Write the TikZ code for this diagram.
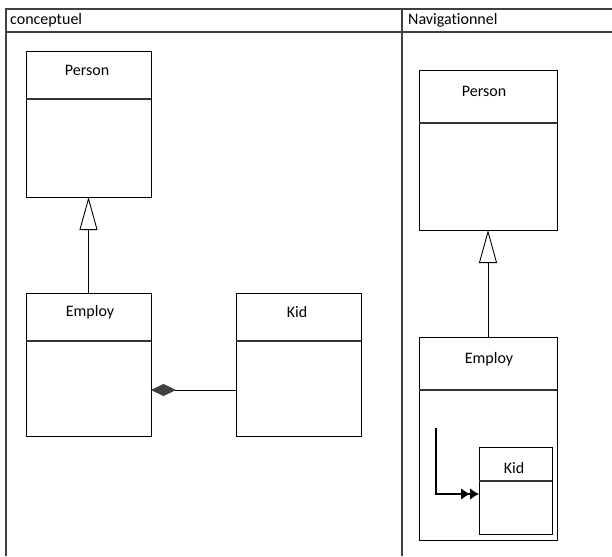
\documentclass[tikz,border=0pt]{standalone}
\usepackage{fontspec}
\setmainfont{Carlito}[Ligatures=NoCommon]
\usetikzlibrary{arrows.meta}
\begin{document}
\begin{tikzpicture}[x=1pt,y=-1pt,
  tablerule/.style={line width=1.4pt, draw=black!75},
  umlbox/.style={draw=black, line width=0.9pt, anchor=north west, outer sep=0pt, inner sep=0pt},
  divider/.style={draw=black!80, line width=1.1pt},
  lbl/.style={font=\fontsize{16}{18}\selectfont, inner sep=0pt},
  hdr/.style={font=\fontsize{16}{18}\selectfont, anchor=west, inner sep=0pt},
  gen/.style={line width=0.9pt, -{Triangle[open, width=18pt, length=33pt, line width=0.9pt]}},
  comp/.style={line width=0.9pt, {Diamond[fill=black!75, color=black!75, width=12pt, length=25pt]}-},
  nav/.style={line width=1.8pt, -{Latex[length=9pt,width=12pt] Latex[length=9pt,width=12pt]}}
]
\useasboundingbox (0,0) rectangle (612,556);
\fill[white] (0,0) rectangle (612,556);
% table
\coordinate (tl) at (5,9);
\coordinate (tr) at (612,9);
\coordinate (hl) at (5,32);
\coordinate (hr) at (612,32);
\coordinate (lv1) at (6,9);
\coordinate (lv2) at (6,556);
\coordinate (dv1) at (402,9);
\coordinate (dv2) at (402,556);
\draw[tablerule] (tl) -- (tr);
\draw[tablerule] (hl) -- (hr);
\draw[tablerule] (lv1) -- (lv2);
\draw[tablerule] (dv1) -- (dv2);
\node[hdr] (h1) at (10,20) {conceptuel};
\node[hdr] (h2) at (408,20) {Navigationnel};

% left side
\node[umlbox, minimum width=125pt, minimum height=146pt] (p1) at (26,51) {};
\draw[divider] (p1.west |- 0,99) -- (p1.east |- 0,99);
\node[lbl] (p1t) at (87,70) {Person};

\node[umlbox, minimum width=125pt, minimum height=143pt] (e1) at (26,293) {};
\draw[divider] (e1.west |- 0,341) -- (e1.east |- 0,341);
\node[lbl] (e1t) at (90,312) {Employ};

\node[umlbox, minimum width=125pt, minimum height=143pt] (k1) at (236,293) {};
\draw[divider] (k1.west |- 0,341) -- (k1.east |- 0,341);
\node[lbl] (k1t) at (297,312) {Kid};

\draw[gen] (e1.north) -- (p1.south);
\draw[comp] (e1.east |- 0,390) -- (k1.west |- 0,390);

% right side
\node[umlbox, minimum width=138pt, minimum height=160pt] (p2) at (419,70) {};
\draw[divider] (p2.west |- 0,123) -- (p2.east |- 0,123);
\node[lbl] (p2t) at (484,91) {Person};

\node[umlbox, minimum width=138pt, minimum height=203pt] (e2) at (419,337) {};
\draw[divider] (e2.west |- 0,390) -- (e2.east |- 0,390);
\node[lbl] (e2t) at (489,359) {Employ};

\draw[gen] (e2.north) -- (p2.south);

\node[umlbox, minimum width=73pt, minimum height=87pt] (k2) at (479,447) {};
\draw[divider] (k2.west |- 0,481) -- (k2.east |- 0,481);
\node[lbl] (k2t) at (514,468) {Kid};

\coordinate (navs) at (436,428);
\draw[nav] (navs) |- (k2.west |- 0,494);
\end{tikzpicture}
\end{document}
